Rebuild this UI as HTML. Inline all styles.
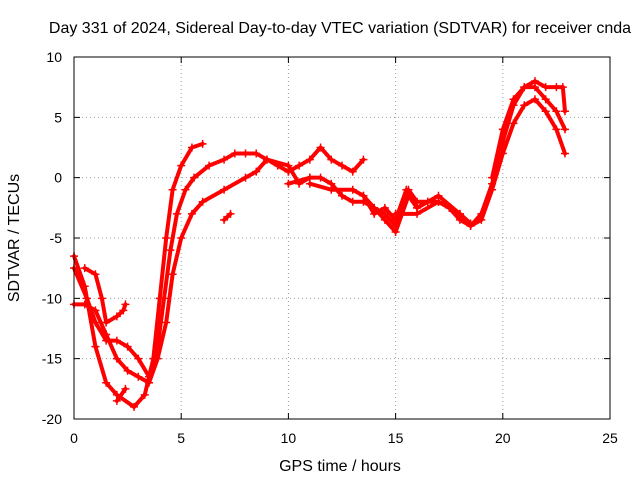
<!DOCTYPE html>
<html><head><meta charset="utf-8"><style>
body{margin:0;background:#fff;}
svg{display:block;font-family:"Liberation Sans",sans-serif;}
</style></head><body>
<svg id="chart" width="640" height="480" viewBox="0 0 640 480">
<rect width="640" height="480" fill="#fff"/>
<text x="340" y="33" font-size="16" text-anchor="middle" fill="#000">Day 331 of 2024, Sidereal Day-to-day VTEC variation (SDTVAR) for receiver cnda</text>
<text x="340" y="471" font-size="16" text-anchor="middle">GPS time / hours</text>
<text x="19" y="238" font-size="16" text-anchor="middle" transform="rotate(-90 19 238)">SDTVAR / TECUs</text>
<g id="grid"></g>
<g id="ticks"></g>
<g id="series"></g>
<rect x="74" y="57" width="536" height="362" fill="none" stroke="#000" stroke-width="1"/>
</svg>
<script>
const xTicks=[0,5,10,15,20,25];
const yTicks=[10,5,0,-5,-10,-15,-20];
const trace1=[[0,-6.5],[0.5,-9],[1,-14],[1.5,-17],[2,-18],[2.8,-19],[3.3,-18],[3.7,-15],[4,-10],[4.3,-5],[4.6,-1],[5,1],[5.5,2.5],[6,2.8]];
const trace2=[[0,-7.5],[0.6,-10],[1,-12],[1.5,-13.5],[2,-13.5],[2.5,-14],[3,-15],[3.5,-16.5],[3.9,-14],[4.2,-10],[4.5,-6],[4.8,-3],[5.2,-1],[5.6,0],[6.3,1],[7,1.5],[7.5,2],[8,2],[8.5,2],[9,1.5],[9.5,1],[10,0.5]];
const trace3=[[0,-10.5],[0.5,-10.5],[1,-11],[1.5,-13],[2,-15],[2.5,-16],[3,-16.5],[3.5,-17],[3.9,-15],[4.3,-12],[4.6,-8],[5,-5],[5.5,-3],[6,-2],[7,-1],[8,0],[8.5,0.5],[9,1.5],[10,1],[10.5,-0.5],[11,0]];
const trace4=[[0.5,-7.5],[1,-8],[1.3,-10],[1.5,-12],[2,-11.5],[2.3,-11],[2.4,-10.5]];
const trace5=[[2,-18.5],[2.4,-17.5]];
const trace6=[[7,-3.5],[7.3,-3]];
const trace7=[[10,0.5],[10.5,1],[11,1.5],[11.5,2.5],[12,1.5],[12.5,1],[13,0.5],[13.5,1.5]];
const trace8=[[10,-0.5],[11,0],[11.5,0],[12,-0.5],[12.5,-1.5],[13,-2],[13.5,-2],[14,-2.5],[14.5,-3.5],[15,-4.5],[15.3,-3],[15.6,-1.5],[16,-2.5],[16.5,-2]];
const trace9=[[11,-0.5],[12,-1],[13,-1],[13.5,-1.5],[14,-2.5],[14.5,-3],[15,-4],[15.3,-2.5],[15.6,-1],[16,-2],[16.5,-2],[17,-2],[17.5,-2.5],[18,-3.5],[18.5,-4],[19,-3],[19.5,-0.5],[20,3],[20.5,6],[21,7.5],[21.5,8],[22,7.5],[22.5,7.5],[22.8,7.5],[22.9,5.5]];
const trace10=[[15,-3],[16,-3],[17,-2],[18,-3],[18.5,-4],[19,-3.5],[19.5,-1],[20,2],[20.5,4.5],[21,6],[21.5,6.5],[22,5.5],[22.5,4],[22.9,2]];
const trace11=[[19.5,0],[20,4],[20.5,6.5],[21,7.5],[21.5,7.5],[22,6.5],[22.5,5.5],[22.9,4]];
const trace12=[[13.5,-1.5],[14,-3],[14.5,-2.5],[15,-3.5],[15.5,-1],[16,-2.5],[17,-1.5],[18,-3],[18.5,-3.8]];
const traces=[trace1,trace2,trace3,trace4,trace5,trace6,trace7,trace8,trace9,trace10,trace11,trace12];
const NS='http://www.w3.org/2000/svg';
const X0=74,X1=610,Y0=419,Y1=57;
function sx(h){return X0+(h-0)/(25-0)*(X1-X0);}
function sy(v){return Y0-(v+20)/30*(Y0-Y1);}
const grid=document.getElementById('grid'),ticks=document.getElementById('ticks'),ser=document.getElementById('series');
xTicks.forEach(t=>{
 const x=sx(t);
 if(t>0&&t<25){const l=document.createElementNS(NS,'line');
 
 
 l.setAttribute('x1',x);l.setAttribute('x2',x);l.setAttribute('y1',Y1);l.setAttribute('y2',Y0);
 l.setAttribute('stroke','#a0a0a0');l.setAttribute('stroke-dasharray','1,3');grid.appendChild(l);}
 const tk=document.createElementNS(NS,'path');
 
 
 tk.setAttribute('d',`M${x},${Y0}v-6M${x},${Y1}v6`);tk.setAttribute('stroke','#000');ticks.appendChild(tk);
 const tx=document.createElementNS(NS,'text');
 
 
 tx.setAttribute('x',x);tx.setAttribute('y',443);tx.setAttribute('font-size','14');tx.setAttribute('text-anchor','middle');
 tx.textContent=t;ticks.appendChild(tx);
});
yTicks.forEach(t=>{
 const y=sy(t);
 if(t>-20&&t<10){const l=document.createElementNS(NS,'line');
 
 
 l.setAttribute('x1',X0);l.setAttribute('x2',X1);l.setAttribute('y1',y);l.setAttribute('y2',y);
 l.setAttribute('stroke','#a0a0a0');l.setAttribute('stroke-dasharray','1,3');grid.appendChild(l);}
 const tk=document.createElementNS(NS,'path');
 
 
 tk.setAttribute('d',`M${X0},${y}h6M${X1},${y}h-6`);tk.setAttribute('stroke','#000');ticks.appendChild(tk);
 const tx=document.createElementNS(NS,'text');
 
 
 tx.setAttribute('x',62);tx.setAttribute('y',y+5);tx.setAttribute('font-size','14');tx.setAttribute('text-anchor','end');
 tx.textContent=t;ticks.appendChild(tx);
});
traces.forEach(tr=>{
 const p=document.createElementNS(NS,'polyline');
 
 
 p.setAttribute('points',tr.map(d=>sx(d[0])+','+sy(d[1])).join(' '));
 p.setAttribute('fill','none');p.setAttribute('stroke','#f00');p.setAttribute('stroke-width','4');
 p.setAttribute('stroke-linejoin','round');p.setAttribute('stroke-linecap','round');
 ser.appendChild(p);
 tr.forEach(d=>{
  const m=document.createElementNS(NS,'path');
  
  
  const x=sx(d[0]),y=sy(d[1]);
  m.setAttribute('d',`M${x-4},${y}h8M${x},${y-4}v8`);m.setAttribute('stroke','#f00');m.setAttribute('stroke-width','1.5');
  ser.appendChild(m);
 });
});
</script>
</body></html>
